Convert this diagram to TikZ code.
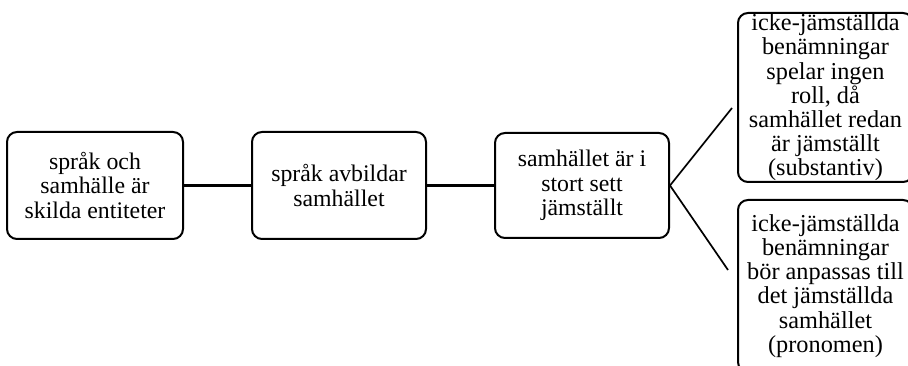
\documentclass[tikz,border=0pt]{standalone}
\usepackage{fontspec}
\setmainfont{Liberation Serif}
\begin{document}
\begin{tikzpicture}[x=1pt,y=1pt,
  box/.style={draw=black, line width=2pt, rounded corners=10pt, inner sep=0pt},
  txt/.style={align=center, inner sep=0pt, font=\fontsize{23.8}{24.5}\selectfont},
  rtxt/.style={align=center, inner sep=0pt, font=\fontsize{24.3}{24.2}\selectfont},
  thick link/.style={line width=3pt},
  thin link/.style={line width=1.7pt}]
\useasboundingbox (0,0) rectangle (908,366);
\node[box, minimum width=176pt, minimum height=107pt] (b1) at (95,180.5) {};
\node[txt] (t1) at (b1) {språk och\\samhälle är\\skilda entiteter};
\node[box, minimum width=174pt, minimum height=107pt] (b2) at (339,180.5) {};
\node[txt] (t2) at (b2) {språk avbildar\\samhället};
\node[box, minimum width=174pt, minimum height=105pt] (b3) at (582,180.5) {};
\node[txt] (t3) at (b3) {samhället är i\\stort sett\\jämställt};
\node[box, minimum width=175pt, minimum height=169pt] (b4) at (825.5,268.5) {};
\node[rtxt] (t4) at (b4) {icke-jämställda\\benämningar\\spelar ingen\\roll, då\\samhället redan\\är jämställt\\(substantiv)};
\node[box, minimum width=175pt, minimum height=172pt] (b5) at (825.5,80) {};
\node[rtxt] (t5) at (b5) {icke-jämställda\\benämningar\\bör anpassas till\\det jämställda\\samhället\\(pronomen)};
\coordinate (c4) at (732,258);
\coordinate (c5) at (728,96);
\draw[thick link] (b1.east) -- (b2.west);
\draw[thick link] (b2.east) -- (b3.east -| b3.west);
\draw[thin link] (c4) -- (b3.east) -- (c5);
\end{tikzpicture}
\end{document}
